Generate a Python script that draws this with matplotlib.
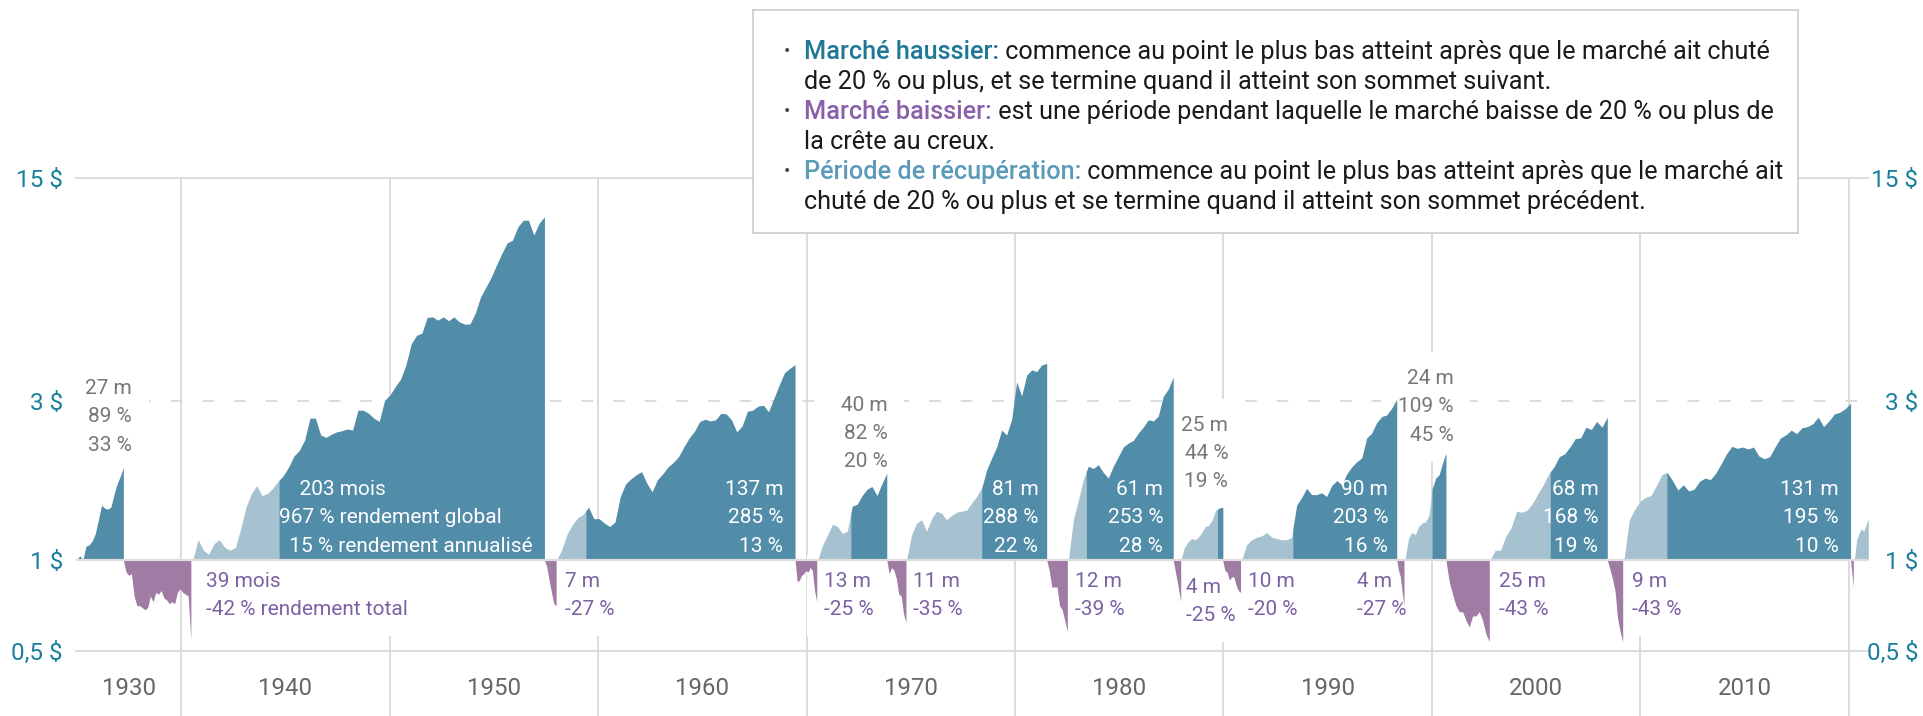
import numpy as np
import matplotlib.pyplot as plt
from matplotlib.ticker import NullLocator

plt.rcParams['font.family'] = ['Roboto', 'DejaVu Sans']

# growth of $1 in each market phase
# bull markets: start / end / end of the recovery period (decimal years)
bull_start = [1934.99, 1940.56, 1958.02, 1970.54, 1974.80, 1982.56, 1987.96, 1990.87, 1998.71, 2002.78, 2009.21, 2020.26]
bull_end = [1937.23, 1957.43, 1969.45, 1973.85, 1981.52, 1987.59, 1989.96, 1998.31, 2000.67, 2008.41, 2020.08, 2020.93]
recovery_end = [1934.99, 1944.69, 1959.41, 1972.12, 1978.40, 1983.41, 1989.70, 1993.32, 2000.00, 2005.66, 2011.26, 2020.93]
bull_months = [27, 203, 137, 40, 81, 61, 25, 90, 24, 68, 131]
bull_total = [89, 967, 285, 82, 288, 253, 44, 203, 109, 168, 195]
bull_annual = [33, 15, 13, 20, 22, 28, 19, 16, 45, 19, 10]

bull_1935 = [1.00, 1.03, 1.00, 1.10, 1.11, 1.14, 1.20, 1.32, 1.46, 1.43, 1.42, 1.44, 1.57, 1.69, 1.78, 1.89]
bull_1940 = [1.00, 1.15, 1.07, 1.04, 1.12, 1.15, 1.09, 1.07, 1.09, 1.24, 1.44, 1.58, 1.67, 1.56, 1.58, 1.64,
             1.72, 1.79, 1.90, 2.05, 2.13, 2.29, 2.66, 2.66, 2.37, 2.33, 2.38, 2.42, 2.44, 2.47, 2.45, 2.81,
             2.81, 2.75, 2.66, 2.60, 3.01, 3.12, 3.31, 3.48, 3.84, 4.44, 4.71, 4.78, 5.33, 5.35, 5.23, 5.35,
             5.21, 5.35, 5.17, 5.09, 5.09, 5.48, 6.13, 6.56, 7.03, 7.65, 8.29, 8.91, 9.08, 9.94, 10.42, 10.42,
             9.41, 10.20, 10.67]
bull_1958 = [1.00, 1.08, 1.20, 1.28, 1.34, 1.37, 1.44, 1.33, 1.33, 1.29, 1.26, 1.30, 1.55, 1.69, 1.75, 1.80,
             1.84, 1.70, 1.60, 1.74, 1.81, 1.90, 1.96, 2.04, 2.18, 2.32, 2.43, 2.60, 2.64, 2.61, 2.63, 2.75,
             2.74, 2.63, 2.42, 2.52, 2.79, 2.81, 2.89, 2.91, 2.78, 3.05, 3.34, 3.64, 3.75, 3.85]
bull_1970 = [1.00, 1.11, 1.19, 1.28, 1.26, 1.20, 1.22, 1.45, 1.47, 1.56, 1.63, 1.66, 1.56, 1.69, 1.82]
bull_1974 = [1.00, 1.19, 1.29, 1.32, 1.22, 1.33, 1.40, 1.38, 1.32, 1.36, 1.39, 1.40, 1.41, 1.48, 1.55, 1.64,
             1.86, 2.02, 2.18, 2.45, 2.37, 2.64, 3.42, 3.10, 3.58, 3.71, 3.67, 3.84, 3.88]
bull_1982 = [1.00, 1.32, 1.51, 1.74, 1.91, 1.88, 1.93, 1.83, 1.76, 1.91, 2.04, 2.18, 2.24, 2.28, 2.40, 2.50,
             2.63, 2.61, 2.70, 3.09, 3.25, 3.53]
bull_1987 = [1.00, 1.09, 1.13, 1.16, 1.15, 1.17, 1.21, 1.26, 1.27, 1.32, 1.41, 1.43, 1.44]
bull_1990 = [1.00, 1.11, 1.15, 1.17, 1.18, 1.21, 1.17, 1.16, 1.15, 1.15, 1.17, 1.46, 1.54, 1.64, 1.57, 1.57,
             1.59, 1.55, 1.67, 1.73, 1.68, 1.81, 1.90, 1.97, 2.02, 2.32, 2.40, 2.58, 2.69, 2.72, 2.85, 3.03]
bull_1998 = [1.00, 1.16, 1.21, 1.19, 1.26, 1.29, 1.30, 1.36, 1.64, 1.76, 1.80, 1.95, 2.09]
bull_2002 = [1.00, 1.07, 1.07, 1.18, 1.25, 1.40, 1.39, 1.41, 1.48, 1.58, 1.68, 1.81, 1.90, 2.04, 2.08, 2.18,
             2.31, 2.32, 2.50, 2.46, 2.60, 2.50, 2.68]
bull_2009 = [1.00, 1.32, 1.42, 1.50, 1.54, 1.56, 1.67, 1.80, 1.83, 1.73, 1.62, 1.68, 1.61, 1.63, 1.72, 1.76,
             1.74, 1.82, 1.94, 2.08, 2.19, 2.16, 2.18, 2.15, 2.18, 2.05, 2.01, 2.04, 2.18, 2.32, 2.37, 2.45,
             2.39, 2.49, 2.51, 2.56, 2.68, 2.51, 2.61, 2.74, 2.77, 2.84, 2.95]
bull_2020 = [1.00, 1.15, 1.20, 1.24, 1.22, 1.27, 1.33]

# bear markets
bear_start = [1937.23, 1957.43, 1969.45, 1973.85, 1981.52, 1987.59, 1989.96, 1998.31, 2000.67, 2008.41, 2020.08]
bear_end = [1940.47, 1957.99, 1970.49, 1974.77, 1982.51, 1987.95, 1990.82, 1998.66, 2002.75, 2009.15, 2020.21]
bear_months = [39, 7, 13, 11, 12, 4, 10, 4, 25, 9]
bear_total = [-42, -27, -25, -35, -39, -25, -20, -27, -43, -43]

bear_1937 = [1.00, 0.92, 0.90, 0.91, 0.78, 0.73, 0.73, 0.72, 0.71, 0.72, 0.78, 0.75, 0.80, 0.79, 0.81, 0.77,
             0.76, 0.74, 0.75, 0.74, 0.80, 0.82, 0.80, 0.79, 0.78, 0.58]
bear_1957 = [1.00, 0.955, 0.87, 0.80, 0.74, 0.73]
bear_1969 = [1.00, 0.86, 0.87, 0.90, 0.91, 0.93, 0.92, 0.95, 0.93, 0.81, 0.75]
bear_1973 = [1.00, 0.91, 0.95, 0.93, 0.88, 0.79, 0.78, 0.69, 0.65]
bear_1981 = [1.00, 0.93, 0.83, 0.83, 0.83, 0.73, 0.71, 0.66, 0.61]
bear_1987 = [1.00, 0.91, 0.83, 0.75]
bear_1989 = [1.00, 0.93, 0.92, 0.87, 0.89, 0.89, 0.84, 0.81, 0.80]
bear_1998 = [1.00, 0.93, 0.89, 0.80, 0.73]
bear_2000 = [1.00, 0.86, 0.79, 0.73, 0.70, 0.70, 0.66, 0.63, 0.68, 0.68, 0.70, 0.66, 0.60, 0.57]
bear_2008 = [1.00, 0.94, 0.88, 0.81, 0.67, 0.61, 0.57]
bear_2020 = [1.00, 0.83]

# axis
y_ticks = [0.535, 1, 3, 13.97]
y_labels = ['0,5 $', '1 $', '3 $', '15 $']
decades = [1940, 1950, 1960, 1970, 1980, 1990, 2000, 2010, 2020]
year_label_at = [1937.5, 1945, 1955, 1965, 1975, 1985, 1995, 2005, 2015]
year_labels = ['1930', '1940', '1950', '1960', '1970', '1980', '1990', '2000', '2010']

bull_paths = [bull_1935, bull_1940, bull_1958, bull_1970, bull_1974, bull_1982, bull_1987,
              bull_1990, bull_1998, bull_2002, bull_2009, bull_2020]
bear_paths = [bear_1937, bear_1957, bear_1969, bear_1973, bear_1981, bear_1987, bear_1989,
              bear_1998, bear_2000, bear_2008, bear_2020]

BULL_DARK = '#518ca8'
BULL_LIGHT = '#a6c1cf'
BEAR = '#a07ba3'
GRID = '#d9d9d9'
TEAL = '#18809c'
GRAY_TXT = '#777777'
PURPLE_TXT = '#7a62a3'

W, H = 1923, 716
fig = plt.figure(figsize=(W / 100, H / 100), dpi=100)
ax = fig.add_axes([76 / W, 0, (1868.3 - 76) / W, (H - 177.7) / H])
ax.set_yscale('log')
ax.set_xlim(1934.96, 2020.93)
ax.set_ylim(0.341, 13.97)
for s in ax.spines.values():
    s.set_visible(False)

ax.set_axisbelow(True)
ax.set_xticks(decades)
ax.tick_params(axis='x', length=0, labelbottom=False)
ax.grid(axis='x', color=GRID, lw=1.3)
ax.yaxis.set_minor_locator(NullLocator())
ax.set_yticks(y_ticks, y_labels)
ax.tick_params(axis='y', length=0, pad=9.4, labelsize=17.5, labelcolor=TEAL)

for val in y_ticks:
    if val == 1:
        continue
    ls = (0, (6.5, 11)) if val == 3 else '-'
    ax.axhline(val, color=GRID, lw=1.3, ls=ls, zorder=0.6, clip_on=False)

ax2 = ax.twinx()
ax2.set_yscale('log')
ax2.set_ylim(ax.get_ylim())
ax2.yaxis.set_minor_locator(NullLocator())
ax2.set_yticks(y_ticks, y_labels)
ax2.tick_params(axis='y', length=0, pad=35.8, labelsize=17.5, labelcolor=TEAL)
for lbl in ax2.get_yticklabels():
    lbl.set_horizontalalignment('right')
for s in ax2.spines.values():
    s.set_visible(False)

for yr, lab in zip(year_label_at, year_labels):
    ax.text(yr, 0.052, lab, transform=ax.get_xaxis_transform(), ha='center', va='center',
            fontsize=17.3, color='#666666')

# areas
for start, end, rec, path in zip(bull_start, bull_end, recovery_end, bull_paths):
    t = np.linspace(start, end, len(path))
    v = np.asarray(path)
    v_rec = np.interp(rec, t, v)
    light = t < rec
    dark = t > rec
    ax.fill_between(np.r_[t[light], rec], 1, np.r_[v[light], v_rec], color=BULL_LIGHT, lw=0, zorder=2)
    ax.fill_between(np.r_[rec, t[dark]], 1, np.r_[v_rec, v[dark]], color=BULL_DARK, lw=0, zorder=2)

for start, end, path in zip(bear_start, bear_end, bear_paths):
    t = np.linspace(start, end, len(path))
    ax.fill_between(t, path, 1, color=BEAR, lw=0, zorder=2)

ax.axhline(1, color='#dddddd', lw=1.6, zorder=3)

LS = 1.63


def label(x, y, s, color, ha, box):
    if box:
        ax.text(x, y, s, ha=ha, va='center', fontsize=15, linespacing=LS, color='none', zorder=1.5,
                bbox=dict(boxstyle='square,pad=0.8', fc='white', ec='none'))
    ax.text(x, y, s, ha=ha, va='center', fontsize=15, linespacing=LS, color=color, zorder=6,
            multialignment=ha)


bull_label_at = [(1937.64, 2.686, 'right', False), (1944.71, 1.34, 'left', True), (1968.89, 1.34, 'right', True),
                 (1973.88, 2.393, 'right', False), (1981.12, 1.34, 'right', True), (1987.11, 1.34, 'right', True),
                 (1990.23, 2.085, 'right', False), (1997.90, 1.34, 'right', True), (2001.04, 2.876, 'right', False),
                 (2007.98, 1.34, 'right', True), (2019.53, 1.34, 'right', True)]
for i, (m, tot, ann) in enumerate(zip(bull_months, bull_total, bull_annual)):
    x, y, ha, inside = bull_label_at[i]
    if i == 1:
        s = f'    {m} mois\n{tot} % rendement global\n  {ann} % rendement annualisé'
    else:
        s = f'{m} m\n{tot} %\n{ann} %'
    label(x, y, s, 'white' if inside else GRAY_TXT, ha, not inside)

bear_label_at = [1941.20, 1958.42, 1970.84, 1975.12, 1982.88, 1988.20, 1991.19, 1996.39, 2003.21, 2009.58]
for i, (m, tot) in enumerate(zip(bear_months, bear_total)):
    if i == 0:
        s = f'{m} mois\n{tot} % rendement total'
    else:
        s = f'{m} m\n{tot} %'
    y = 0.752 if i == 5 else 0.784
    label(bear_label_at[i], y, s, PURPLE_TXT, 'left', True)

# definitions box
lax = fig.add_axes([753 / W, 1 - 233 / H, 1045 / W, 223 / H])
lax.set_xlim(0, 1045)
lax.set_ylim(223, 0)
lax.set_xticks([])
lax.set_yticks([])
for s in lax.spines.values():
    s.set_color('#cccccc')
    s.set_linewidth(1.2)

legend_rows = [
    ('Marché haussier:', '#1f7896', ' commence au point le plus bas atteint après que le marché ait chuté'),
    (None, None, 'de 20 % ou plus, et se termine quand il atteint son sommet suivant.'),
    ('Marché baissier:', '#8a60a8', ' est une période pendant laquelle le marché baisse de 20 % ou plus de'),
    (None, None, 'la crête au creux.'),
    ('Période de récupération:', '#5b9bb8', ' commence au point le plus bas atteint après que le marché ait'),
    (None, None, 'chuté de 20 % ou plus et se termine quand il atteint son sommet précédent.'),
]
FS_LEG = 18.2
for i, (head, col, rest) in enumerate(legend_rows):
    y = 42 + 30 * i
    if head is None:
        lax.text(51, y, rest, fontsize=FS_LEG, color='#1a1a1a', va='center')
        continue
    lax.text(34, y, '•', fontsize=FS_LEG * 0.75, color='#444444', va='center', ha='center')
    t1 = lax.text(51, y, head, fontsize=FS_LEG, color=col, va='center', fontweight='medium')
    lax.annotate(rest, xy=(1, 0), xycoords=t1, fontsize=FS_LEG, color='#1a1a1a', va='bottom', ha='left')

fig.savefig('out.png', dpi=100)
